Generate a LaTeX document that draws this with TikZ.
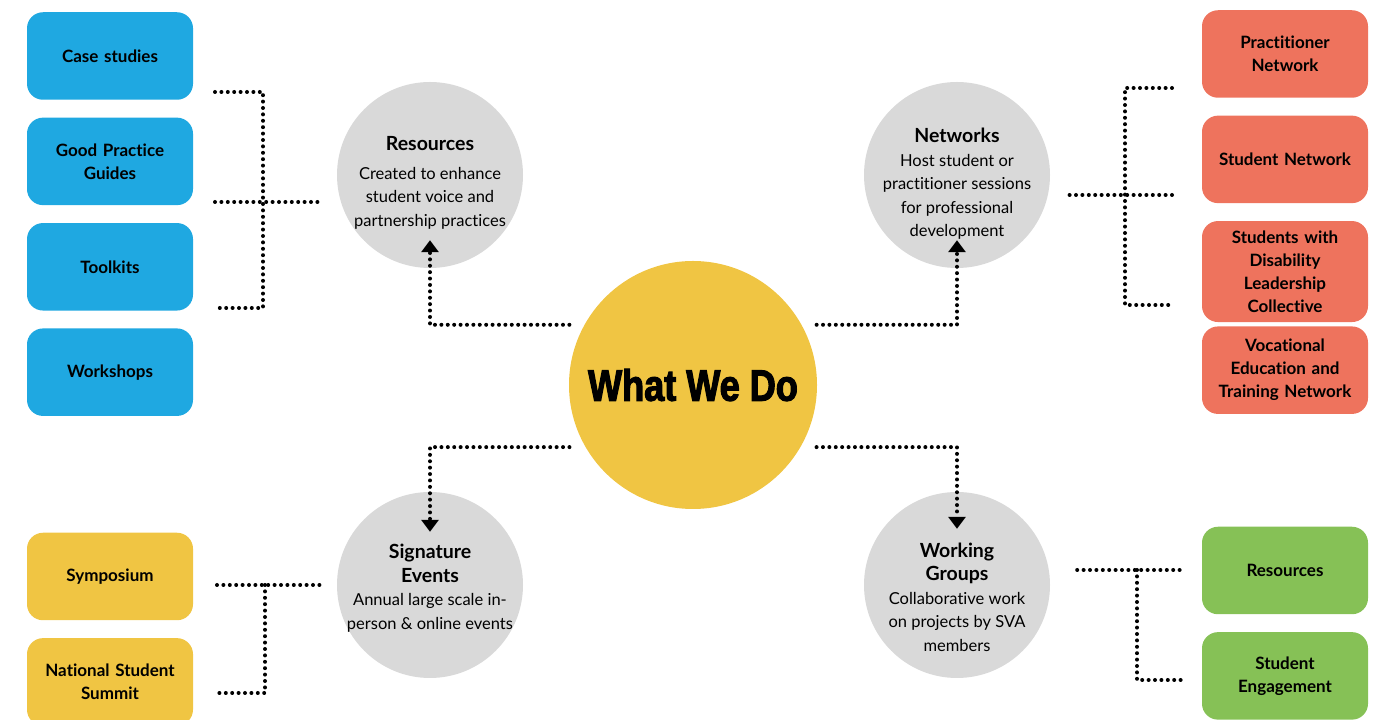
\documentclass[tikz,border=0pt]{standalone}
\usepackage{fontspec}
\setmainfont{Lato}[Ligatures=NoCommon]
\newfontfamily\whatfont[FakeStretch=0.82,FakeBold=2.5]{Liberation Sans}
\usetikzlibrary{chains}
\usetikzlibrary{positioning}
\usetikzlibrary{arrows.meta}
\definecolor{resblue}{HTML}{1FA8E1}
\definecolor{netred}{HTML}{EE735D}
\definecolor{sigyellow}{HTML}{F0C543}
\definecolor{wggreen}{HTML}{86C156}
\definecolor{topicgray}{HTML}{D9D9D9}

\begin{document}
\begin{tikzpicture}[
x=1pt, y=1pt,
start chain=res going below,
start chain=net going below,
start chain=sig going below,
start chain=wg going below,
node distance=17.5pt,
box/.style={
	rectangle,
	rounded corners=16pt,
	text centered,
	text width=150pt,
	minimum width=166pt,
	minimum height=87.5pt,
	text=black,
	font=\bfseries\fontsize{17}{23}\selectfont
},
blue/.style={
	on chain=res,
	fill=resblue
},
red/.style={
	on chain=net,
	fill=netred
},
yellow/.style={
	on chain=sig,
	fill=sigyellow
},
green/.style={
	on chain=wg,
	fill=wggreen
},
topic/.style={
	circle,
	fill=topicgray,
	minimum size=186pt,
	inner sep=0pt
},
about/.style={
	align=center,
	font=\fontsize{16.5}{23.5}\selectfont
},
dotline/.style={
	line width=4pt,
	line cap=round,
	dash pattern=on 0pt off 6.4pt
},
link/.style={
	dotline,
	-{Triangle[width=17pt,length=12pt]}
}
]
\useasboundingbox (0,0) rectangle (1374,720);

% Centre
\node [circle, fill=sigyellow, minimum size=248pt, inner sep=0pt] (WhatWeDo) at (693,335)
	{\whatfont\bfseries\fontsize{44}{50}\selectfont What We Do};

% Topics
\node [topic, label={[about, yshift=-8pt]center:{{\bfseries\fontsize{19.5}{24}\selectfont Resources}\\[5pt] Created to enhance\\ student voice and\\ partnership practices}}] (Resources) at (430,545) {};
\node [topic, label={[about, yshift=-9pt]center:{{\bfseries\fontsize{19.5}{24}\selectfont Networks}\\ Host student or\\ practitioner sessions\\ for professional\\ development}}] (Networks) at (957,545) {};
\node [topic, label={[about, yshift=-3pt]center:{{\bfseries\fontsize{19.5}{24}\selectfont Signature}\\ {\bfseries\fontsize{19.5}{24}\selectfont Events}\\ Annual large scale in-\\ person \& online events}}] (Signature) at (430,135) {};
\node [topic, label={[about, yshift=-12pt]center:{{\bfseries\fontsize{19.5}{24}\selectfont Working}\\ {\bfseries\fontsize{19.5}{24}\selectfont Groups}\\ Collaborative work\\ on projects by SVA\\ members}}] (Working) at (957,135) {};

% Resources boxes
\node [box, blue] (Case) at (110,664) {Case studies};
\node [box, blue] (Guides) {Good Practice\\ Guides};
\node [box, blue] (Toolkits) {Toolkits};
\node [box, blue] (Workshops) {Workshops};

% Network boxes
\node [box, red] (Practitioner) at (1285,666) {Practitioner\\ Network};
\node [box, red] (StudentNet) {Student Network};
\node [box, red, minimum height=101pt] (Disability) {Students with\\ Disability\\ Leadership\\ Collective};
\node [box, red, yshift=13.5pt] (Vocational) {Vocational\\ Education and\\ Training Network};

% Event boxes
\node [box, yellow] (Symposium) at (110,143.5) {Symposium};
\node [box, yellow] (Summit) {National Student\\ Summit};

% Working group boxes
\node [box, green] (WGres) at (1285,149.5) {Resources};
\node [box, green] (Engagement) {Student\\ Engagement};

% Links from the centre
\draw [link] ([xshift=-15pt]WhatWeDo.151) -| ([yshift=28pt]Resources.south);
\draw [link] ([xshift=15pt]WhatWeDo.29) -| ([yshift=28pt]Networks.south);
\draw [link] ([xshift=-16pt]WhatWeDo.210) -| ([yshift=-40pt]Signature.north);
\draw [link] ([xshift=16pt]WhatWeDo.330) -| ([yshift=-37pt]Working.north);

% Brackets
\coordinate (res top) at (215,628);
\coordinate (res bot) at (215,412);
\coordinate (res mid) at (215,518);
\draw [dotline] (res top) -- ++(48,0) |- (res bot);
\draw [dotline] (res mid) -- ([xshift=-15pt]Resources.west |- res mid);

\coordinate (net top) at (1172,632);
\coordinate (net bot) at (1172,415);
\coordinate (net mid) at (1172,525);
\draw [dotline] (net top) -- ++(-47,0) |- (net bot);
\draw [dotline] (net mid) -- ([xshift=17pt]Networks.east |- net mid);

\coordinate (sig top) at (217,135);
\coordinate (sig knee) at (265,135);
\coordinate (sig bot) at (217,27);
\draw [dotline] (sig top) -- ([xshift=-15pt]Signature.west);
\draw [dotline] (sig knee) |- (sig bot);

\coordinate (wg top) at (1182,150);
\coordinate (wg knee) at (1137,150);
\coordinate (wg bot) at (1182,40);
\draw [dotline] ([xshift=27pt]Working.east |- wg top) -- (wg top);
\draw [dotline] (wg knee) |- (wg bot);

\end{tikzpicture}
\end{document}
